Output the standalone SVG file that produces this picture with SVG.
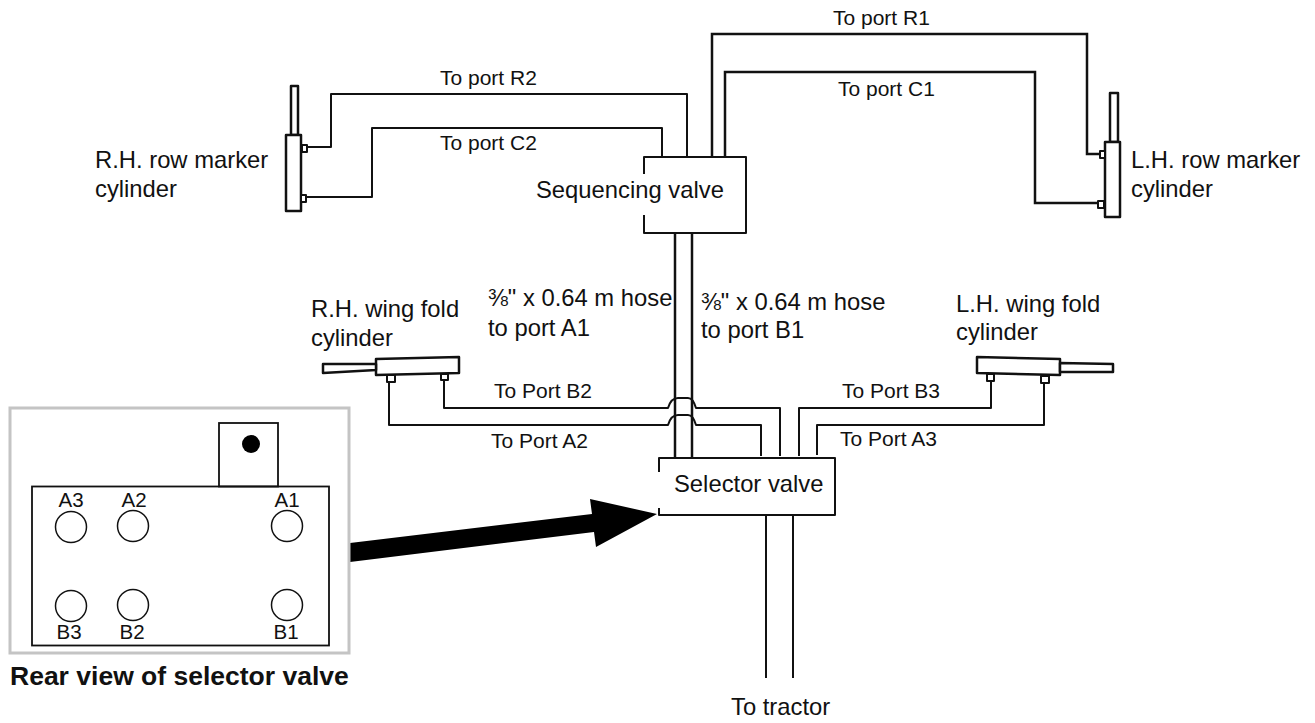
<svg xmlns="http://www.w3.org/2000/svg" width="1315" height="723" viewBox="0 0 1315 723">
<style>
text{font-family:"Liberation Sans",Arial,sans-serif;fill:#111}
.s{font-size:21px}.m{font-size:23.800px}.p{font-size:20.500px;text-anchor:middle}
.c{fill:none;stroke:#111;stroke-width:2;stroke-linejoin:round}
.t{fill:#fff;stroke:#111;stroke-width:2;stroke-linejoin:round}
.k{fill:#fff;stroke:#111;stroke-width:2.500;stroke-linejoin:round}
.h{fill:none;stroke:#111;stroke-width:2.500}
</style>
<rect width="1315" height="723" fill="#fff"/>
<g id="connectors">
<path class="c" d="M307 147H331V94H687V157"/>
<path class="c" d="M306 197H372V128H662V157"/>
<path class="h" d="M712 157V34H1087V154H1100"/>
<path class="h" d="M725 157V72H1035V203H1098"/>
<path class="h" d="M675 233V458"/>
<path class="h" d="M692 233V458"/>
<path class="c" d="M444 381V408H668Q671 398 678 398H688Q693 398 696 408H780V456"/>
<path class="c" d="M389 382V425H668Q671 415 678 415H688Q693 415 696 425H761V456"/>
<path class="c" d="M799 456V408H991V382"/>
<path class="c" d="M817 455V425H1044V384"/>
<path class="c" d="M766 515V678"/>
<path class="c" d="M793 515V678"/>
<polygon fill="#000" points="350,543 592,514 590,499 657,514 596,547 594,532 350,562"/>
</g>
<g id="sequencing-valve">
<path class="c" d="M644 174V157H746V233H644V215"/>
<text class="m" x="536" y="198">Sequencing valve</text>
</g>
<g id="selector-valve">
<path class="c" d="M659 472V458H835V515H659V508"/>
<text class="m" x="674" y="492">Selector valve</text>
</g>
<g id="rh-row-marker">
<rect class="k" x="291" y="86" width="7" height="49"/>
<rect class="k" x="286" y="135" width="15" height="76"/>
<rect class="t" x="302" y="145" width="5" height="7"/>
<rect class="t" x="301" y="195" width="5" height="7"/>
<text class="m" x="95" y="168">R.H. row marker</text>
<text class="m" x="95" y="197">cylinder</text>
</g>
<g id="lh-row-marker">
<rect class="k" x="1110" y="93" width="8" height="49"/>
<rect class="k" x="1105" y="142" width="15" height="75"/>
<rect class="t" x="1100" y="151" width="5" height="7"/>
<rect class="t" x="1098" y="201" width="6" height="7"/>
<text class="m" x="1131" y="168">L.H. row marker</text>
<text class="m" x="1131" y="197">cylinder</text>
</g>
<g id="rh-wing-fold">
<path class="k" d="M376 359L459 357V373L376 375Z"/>
<path class="k" d="M323 364L376 364V370L323 373Z"/>
<rect class="t" x="387" y="375" width="8" height="7"/>
<rect class="t" x="441" y="374" width="7" height="6"/>
<text class="m" x="311" y="317">R.H. wing fold</text>
<text class="m" x="311" y="346">cylinder</text>
</g>
<g id="lh-wing-fold">
<path class="k" d="M977 357L1060 359V375L977 373Z"/>
<path class="k" d="M1060 363L1113 364V372L1060 372Z"/>
<rect class="t" x="987" y="374" width="7" height="7"/>
<rect class="t" x="1041" y="376" width="8" height="7"/>
<text class="m" x="956" y="312">L.H. wing fold</text>
<text class="m" x="956" y="340">cylinder</text>
</g>
<g id="labels">
<text class="s" x="440" y="85">To port R2</text>
<text class="s" x="440" y="150">To port C2</text>
<text class="s" x="833" y="25">To port R1</text>
<text class="s" x="838" y="96">To port C1</text>
<text class="s" x="494" y="398">To Port B2</text>
<text class="s" x="491" y="448">To Port A2</text>
<text class="s" x="842" y="398">To Port B3</text>
<text class="s" x="840" y="446">To Port A3</text>
<text class="m" x="731" y="715">To tractor</text>
<text class="m" x="488" y="306">⅜" x 0.64 m hose</text>
<text class="m" x="488" y="336">to port A1</text>
<text class="m" x="701" y="310">⅜" x 0.64 m hose</text>
<text class="m" x="701" y="338">to port B1</text>
</g>
<g id="rear-view">
<rect x="10" y="408" width="339" height="245" fill="none" stroke="#c4c4c4" stroke-width="3"/>
<rect x="32" y="486.500" width="297" height="159" fill="none" stroke="#111" stroke-width="1.800"/>
<rect x="219" y="423" width="59" height="63.500" fill="none" stroke="#111" stroke-width="1.800"/>
<circle cx="251" cy="444" r="9" fill="#000"/>
<g fill="none" stroke="#111" stroke-width="1.500">
<circle cx="71" cy="527" r="15.500"/><circle cx="133" cy="526" r="15.500"/><circle cx="287" cy="526" r="15.500"/>
<circle cx="71" cy="606" r="15.500"/><circle cx="133" cy="605" r="15.500"/><circle cx="287" cy="605" r="15.500"/>
</g>
<text class="p" x="71" y="507">A3</text><text class="p" x="134" y="507">A2</text><text class="p" x="287" y="507">A1</text>
<text class="p" x="69" y="639">B3</text><text class="p" x="132" y="639">B2</text><text class="p" x="286" y="639">B1</text>
<text x="10" y="685" font-size="26.500" font-weight="bold">Rear view of selector valve</text>
</g>
</svg>
